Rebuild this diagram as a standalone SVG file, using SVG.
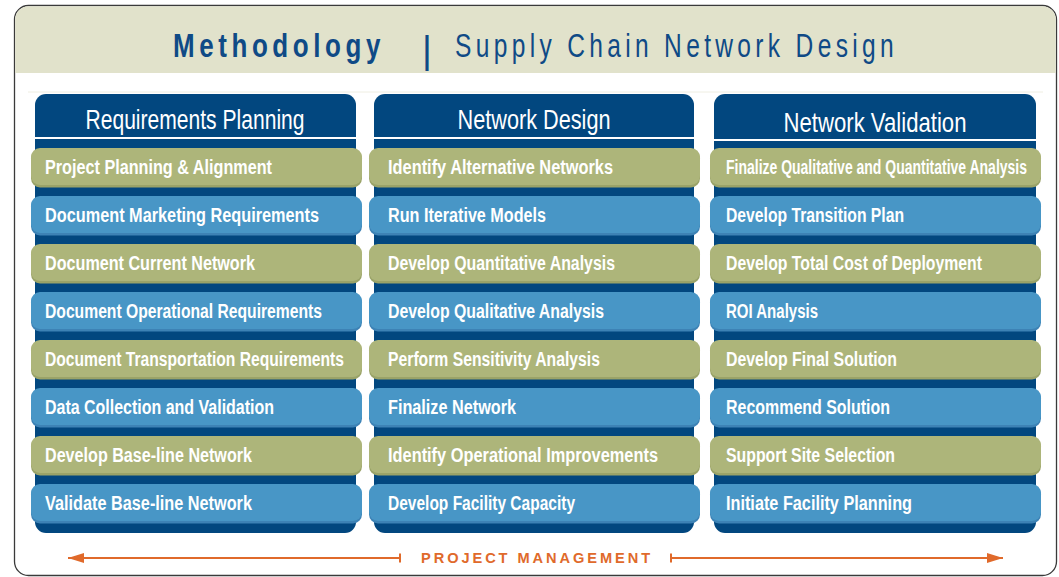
<svg xmlns="http://www.w3.org/2000/svg" width="1059" height="577" viewBox="0 0 1059 577">
<style>
.frame{fill:#ffffff;stroke:#3a3a3a;stroke-width:1.3}
.band{fill:#e1e2cb}
.col{fill:#02477f}
.sep{fill:#ffffff}
.olive{fill:#adb57a}
.olivesh{fill:#9aa368}
.blue{fill:#4896c6}
.bluesh{fill:#3d82b5}
.pt{font-family:"Liberation Sans Narrow","Liberation Sans",Arial,sans-serif;font-weight:bold;font-size:20px;fill:#ffffff}
.ht{font-family:"Liberation Sans Narrow","Liberation Sans",Arial,sans-serif;font-size:28px;fill:#ffffff;text-anchor:middle}
.title{font-family:"Liberation Sans",Arial,sans-serif;font-size:34px;fill:#0f4a86;letter-spacing:6px}
.pm{font-family:"Liberation Sans",Arial,sans-serif;font-weight:bold;font-size:15px;fill:#e06a2b;letter-spacing:3px}
.ar{stroke:#e06a2b;stroke-width:2;fill:none}
</style>
<defs>
<marker id="ah" viewBox="0 0 16 10" refX="16" refY="5" markerWidth="16" markerHeight="10" markerUnits="userSpaceOnUse" orient="auto-start-reverse">
<path d="M0,0 L16,5 L0,10 Z" fill="#e06a2b"/>
</marker>
</defs>
<rect x="0" y="0" width="1059" height="577" fill="#ffffff"/>
<g id="frame">
<rect class="frame" x="14.5" y="5.5" width="1042" height="570" rx="14"/>
<path class="band" d="M15.2,73 V19.5 A13.3,13.3 0 0 1 28.5,6.2 H1042.5 A13.3,13.3 0 0 1 1055.8,19.5 V73 Z"/>
<line x1="28" y1="92" x2="1043" y2="92" stroke="#efeee2" stroke-width="1"/>
</g>
<g id="title">
<text class="title" x="173" y="57" font-weight="bold" textLength="212" lengthAdjust="spacingAndGlyphs">Methodology</text>
<text x="427" y="63" font-family="Liberation Sans, Arial, sans-serif" font-size="38" fill="#0f4a86" text-anchor="middle">|</text>
<text class="title" x="455" y="57" textLength="443" lengthAdjust="spacingAndGlyphs">Supply Chain Network Design</text>
</g>

<g id="col-requirements-planning">
<rect class="col" x="35" y="94" width="321" height="439" rx="11"/>
<rect class="sep" x="35" y="137" width="321" height="2"/>
<text class="ht" x="195" y="129" textLength="219" lengthAdjust="spacingAndGlyphs">Requirements Planning</text>
</g>
<g id="col-network-design">
<rect class="col" x="374" y="94" width="320" height="439" rx="11"/>
<rect class="sep" x="374" y="137" width="320" height="2"/>
<text class="ht" x="534" y="129" textLength="153" lengthAdjust="spacingAndGlyphs">Network Design</text>
</g>
<g id="col-network-validation">
<rect class="col" x="714" y="94" width="322" height="439" rx="11"/>
<rect class="sep" x="714" y="139" width="322" height="2"/>
<text class="ht" x="875" y="131.5" textLength="183" lengthAdjust="spacingAndGlyphs">Network Validation</text>
</g>

<!-- Column 1 pills -->
<g id="rp1"><rect class="olivesh" x="31" y="149.5" width="331" height="38" rx="9"/><rect class="olive" x="31" y="148" width="331" height="37" rx="9"/><text class="pt" x="45" y="174" textLength="227" lengthAdjust="spacingAndGlyphs">Project Planning &amp; Alignment</text></g>
<g id="rp2"><rect class="bluesh" x="31" y="197.5" width="331" height="38" rx="9"/><rect class="blue" x="31" y="196" width="331" height="37" rx="9"/><text class="pt" x="45" y="222" textLength="274" lengthAdjust="spacingAndGlyphs">Document Marketing Requirements</text></g>
<g id="rp3"><rect class="olivesh" x="31" y="245.5" width="331" height="38" rx="9"/><rect class="olive" x="31" y="244" width="331" height="37" rx="9"/><text class="pt" x="45" y="270" textLength="210" lengthAdjust="spacingAndGlyphs">Document Current Network</text></g>
<g id="rp4"><rect class="bluesh" x="31" y="293.5" width="331" height="38" rx="9"/><rect class="blue" x="31" y="292" width="331" height="37" rx="9"/><text class="pt" x="45" y="318" textLength="277" lengthAdjust="spacingAndGlyphs">Document Operational Requirements</text></g>
<g id="rp5"><rect class="olivesh" x="31" y="341.5" width="331" height="38" rx="9"/><rect class="olive" x="31" y="340" width="331" height="37" rx="9"/><text class="pt" x="45" y="366" textLength="299" lengthAdjust="spacingAndGlyphs">Document Transportation Requirements</text></g>
<g id="rp6"><rect class="bluesh" x="31" y="389.5" width="331" height="38" rx="9"/><rect class="blue" x="31" y="388" width="331" height="37" rx="9"/><text class="pt" x="45" y="414" textLength="229" lengthAdjust="spacingAndGlyphs">Data Collection and Validation</text></g>
<g id="rp7"><rect class="olivesh" x="31" y="437.5" width="331" height="38" rx="9"/><rect class="olive" x="31" y="436" width="331" height="37" rx="9"/><text class="pt" x="45" y="462" textLength="207" lengthAdjust="spacingAndGlyphs">Develop Base-line Network</text></g>
<g id="rp8"><rect class="bluesh" x="31" y="485.5" width="331" height="38" rx="9"/><rect class="blue" x="31" y="484" width="331" height="37" rx="9"/><text class="pt" x="45" y="510" textLength="207" lengthAdjust="spacingAndGlyphs">Validate Base-line Network</text></g>

<!-- Column 2 pills -->
<g id="nd1"><rect class="olivesh" x="369" y="149.5" width="331" height="38" rx="9"/><rect class="olive" x="369" y="148" width="331" height="37" rx="9"/><text class="pt" x="388" y="174" textLength="225" lengthAdjust="spacingAndGlyphs">Identify Alternative Networks</text></g>
<g id="nd2"><rect class="bluesh" x="369" y="197.5" width="331" height="38" rx="9"/><rect class="blue" x="369" y="196" width="331" height="37" rx="9"/><text class="pt" x="388" y="222" textLength="158" lengthAdjust="spacingAndGlyphs">Run Iterative Models</text></g>
<g id="nd3"><rect class="olivesh" x="369" y="245.5" width="331" height="38" rx="9"/><rect class="olive" x="369" y="244" width="331" height="37" rx="9"/><text class="pt" x="388" y="270" textLength="227" lengthAdjust="spacingAndGlyphs">Develop Quantitative Analysis</text></g>
<g id="nd4"><rect class="bluesh" x="369" y="293.5" width="331" height="38" rx="9"/><rect class="blue" x="369" y="292" width="331" height="37" rx="9"/><text class="pt" x="388" y="318" textLength="216" lengthAdjust="spacingAndGlyphs">Develop Qualitative Analysis</text></g>
<g id="nd5"><rect class="olivesh" x="369" y="341.5" width="331" height="38" rx="9"/><rect class="olive" x="369" y="340" width="331" height="37" rx="9"/><text class="pt" x="388" y="366" textLength="212" lengthAdjust="spacingAndGlyphs">Perform Sensitivity Analysis</text></g>
<g id="nd6"><rect class="bluesh" x="369" y="389.5" width="331" height="38" rx="9"/><rect class="blue" x="369" y="388" width="331" height="37" rx="9"/><text class="pt" x="388" y="414" textLength="128" lengthAdjust="spacingAndGlyphs">Finalize Network</text></g>
<g id="nd7"><rect class="olivesh" x="369" y="437.5" width="331" height="38" rx="9"/><rect class="olive" x="369" y="436" width="331" height="37" rx="9"/><text class="pt" x="388" y="462" textLength="270" lengthAdjust="spacingAndGlyphs">Identify Operational Improvements</text></g>
<g id="nd8"><rect class="bluesh" x="369" y="485.5" width="331" height="38" rx="9"/><rect class="blue" x="369" y="484" width="331" height="37" rx="9"/><text class="pt" x="388" y="510" textLength="187" lengthAdjust="spacingAndGlyphs">Develop Facility Capacity</text></g>

<!-- Column 3 pills -->
<g id="nv1"><rect class="olivesh" x="710" y="149.5" width="331" height="38" rx="9"/><rect class="olive" x="710" y="148" width="331" height="37" rx="9"/><text class="pt" x="726" y="174" textLength="301" lengthAdjust="spacingAndGlyphs">Finalize Qualitative and Quantitative Analysis</text></g>
<g id="nv2"><rect class="bluesh" x="710" y="197.5" width="331" height="38" rx="9"/><rect class="blue" x="710" y="196" width="331" height="37" rx="9"/><text class="pt" x="726" y="222" textLength="178" lengthAdjust="spacingAndGlyphs">Develop Transition Plan</text></g>
<g id="nv3"><rect class="olivesh" x="710" y="245.5" width="331" height="38" rx="9"/><rect class="olive" x="710" y="244" width="331" height="37" rx="9"/><text class="pt" x="726" y="270" textLength="256" lengthAdjust="spacingAndGlyphs">Develop Total Cost of Deployment</text></g>
<g id="nv4"><rect class="bluesh" x="710" y="293.5" width="331" height="38" rx="9"/><rect class="blue" x="710" y="292" width="331" height="37" rx="9"/><text class="pt" x="726" y="318" textLength="92" lengthAdjust="spacingAndGlyphs">ROI Analysis</text></g>
<g id="nv5"><rect class="olivesh" x="710" y="341.5" width="331" height="38" rx="9"/><rect class="olive" x="710" y="340" width="331" height="37" rx="9"/><text class="pt" x="726" y="366" textLength="171" lengthAdjust="spacingAndGlyphs">Develop Final Solution</text></g>
<g id="nv6"><rect class="bluesh" x="710" y="389.5" width="331" height="38" rx="9"/><rect class="blue" x="710" y="388" width="331" height="37" rx="9"/><text class="pt" x="726" y="414" textLength="164" lengthAdjust="spacingAndGlyphs">Recommend Solution</text></g>
<g id="nv7"><rect class="olivesh" x="710" y="437.5" width="331" height="38" rx="9"/><rect class="olive" x="710" y="436" width="331" height="37" rx="9"/><text class="pt" x="726" y="462" textLength="169" lengthAdjust="spacingAndGlyphs">Support Site Selection</text></g>
<g id="nv8"><rect class="bluesh" x="710" y="485.5" width="331" height="38" rx="9"/><rect class="blue" x="710" y="484" width="331" height="37" rx="9"/><text class="pt" x="726" y="510" textLength="186" lengthAdjust="spacingAndGlyphs">Initiate Facility Planning</text></g>

<g id="connectors">
<line class="ar" x1="400" y1="558" x2="68" y2="558" marker-end="url(#ah)"/>
<line class="ar" x1="400" y1="553.5" x2="400" y2="562.5"/>
<line class="ar" x1="671" y1="558" x2="1003" y2="558" marker-end="url(#ah)"/>
<line class="ar" x1="671" y1="553.5" x2="671" y2="562.5"/>
</g>
<g id="project-management">
<text class="pm" x="421" y="562.5" textLength="232" lengthAdjust="spacingAndGlyphs">PROJECT MANAGEMENT</text>
</g>
</svg>
